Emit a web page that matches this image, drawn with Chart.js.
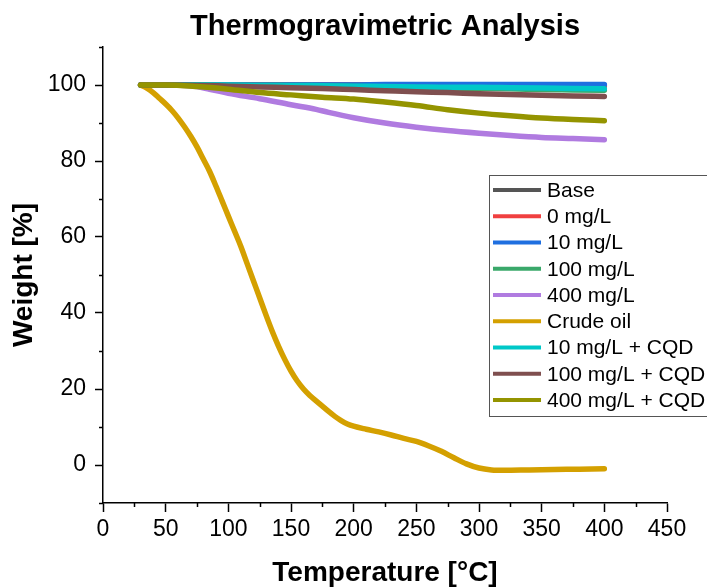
<!DOCTYPE html>
<html>
<head>
<meta charset="utf-8">
<title>Thermogravimetric Analysis</title>
<script src="https://cdn.jsdelivr.net/npm/chart.js@4.4.1/dist/chart.umd.min.js"></script>
<style>
  html, body { margin: 0; padding: 0; background: #fff; }
  #tga { display: block; }
</style>
</head>
<body>
<canvas id="tga" width="707" height="587"></canvas>
<script>
/* ===== data ===== */

// temperatures [°C] shared by the slowly changing samples
const tempCommon = [30, 50, 75, 100, 125, 150, 175, 200, 225, 250, 275, 300, 325, 350, 375, 400];

const wBase      = [100, 100, 100, 100, 100, 100, 100, 100, 100, 100, 100, 100, 99.9, 99.9, 99.9, 99.9];
const w0mg       = [100, 100, 100, 100, 100, 100, 99.9, 99.9, 99.9, 99.9, 99.8, 99.8, 99.8, 99.8, 99.7, 99.7];
const w10mg      = [100, 100, 100, 100, 100, 100, 100, 100, 100.1, 100.1, 100.1, 100.1, 100.1, 100.1, 100.1, 100.1];
const w100mg     = [100, 100, 100, 99.9, 99.9, 99.8, 99.7, 99.6, 99.5, 99.3, 99.2, 99.1, 99.0, 98.8, 98.7, 98.6];
const w10mgCqd   = [100, 100, 100, 100, 99.9, 99.9, 99.8, 99.7, 99.6, 99.5, 99.4, 99.4, 99.3, 99.2, 99.1, 99.0];
const w100mgCqd  = [100, 100, 99.9, 99.7, 99.5, 99.3, 99.1, 98.8, 98.5, 98.2, 98.0, 97.7, 97.5, 97.3, 97.1, 97.0];
const w400mgCqd  = [100, 100, 99.6, 98.9, 98.0, 97.4, 96.8, 96.3, 95.5, 94.6, 93.5, 92.6, 91.9, 91.3, 90.9, 90.6];

// 400 mg/L has a small kink near 180 °C
const temp400mg  = [30, 50, 70, 85, 100, 125, 150, 170, 180, 200, 225, 250, 275, 300, 325, 350, 375, 400];
const w400mg     = [100, 100, 99.8, 98.9, 97.8, 96.4, 94.8, 93.6, 92.8, 91.4, 90.0, 88.9, 88.0, 87.3, 86.7, 86.2, 85.9, 85.6];

// crude oil
const tempCrude  = [30, 35, 40, 45, 50, 55, 60, 65, 70, 75, 80, 85, 90, 95, 100, 105, 110, 115, 120, 125,
                    130, 135, 140, 145, 150, 155, 160, 165, 170, 175, 180, 185, 190, 195, 200, 210, 220, 230,
                    240, 250, 260, 270, 280, 290, 300, 310, 320, 340, 360, 380, 400];
const wCrude     = [100, 99.2, 98, 96.5, 95, 93.3, 91.3, 89, 86.5, 83.7, 80.5, 77.3, 73.5, 69.5, 65.5, 61.5, 57.5, 53, 48.5, 44,
                    39.5, 35.2, 31.3, 27.8, 24.7, 22.1, 20, 18.3, 16.9, 15.5, 14.1, 12.8, 11.7, 10.8, 10.2, 9.4, 8.7, 7.9,
                    7, 6.2, 5, 3.6, 1.9, 0.3, -0.8, -1.3, -1.4, -1.3, -1.2, -1.1, -1.0];

const seriesLabels = ["Base", "0 mg/L", "10 mg/L", "100 mg/L", "400 mg/L", "Crude oil",
                      "10 mg/L + CQD", "100 mg/L + CQD", "400 mg/L + CQD"];
const seriesTemps  = [tempCommon, tempCommon, tempCommon, tempCommon, temp400mg, tempCrude,
                      tempCommon, tempCommon, tempCommon];
const seriesWeights = [wBase, w0mg, w10mg, w100mg, w400mg, wCrude, w10mgCqd, w100mgCqd, w400mgCqd];
const seriesColors = ["#555555", "#f04040", "#1f6fe0", "#3aa86a", "#b07be0", "#d4a000",
                      "#00c8c8", "#7f4f4f", "#949400"];

const xTicks = [0, 50, 100, 150, 200, 250, 300, 350, 400, 450];
const yTicks = [0, 20, 40, 60, 80, 100];

/* ===== helpers ===== */

const FONT = '"Liberation Sans", Arial, Helvetica, sans-serif';

function toPoints(xs, ys) {
    return xs.map((t, i) => ({ x: t, y: ys[i] }));
}

// minor ticks, title and the boxed legend inside the plot
const decorPlugin = {
    id: "decor",
    afterDraw(chart) {
        const { ctx, chartArea } = chart;
        const xs = chart.scales.x;
        const ys = chart.scales.y;
        ctx.save();

        // minor ticks
        ctx.strokeStyle = "#000";
        ctx.lineWidth = 1.5;
        for (let v = 25; v < 450; v += 50) {
            const px = Math.round(xs.getPixelForValue(v)) + 0.5;
            ctx.beginPath();
            ctx.moveTo(px, chartArea.bottom);
            ctx.lineTo(px, chartArea.bottom + 4);
            ctx.stroke();
        }
        for (let v = -10; v <= 110; v += 20) {
            const py = Math.round(ys.getPixelForValue(v)) + 0.5;
            ctx.beginPath();
            ctx.moveTo(chartArea.left, py);
            ctx.lineTo(chartArea.left - 4, py);
            ctx.stroke();
        }

        // title, centred over the plot area
        ctx.fillStyle = "#000";
        ctx.font = "bold 29px " + FONT;
        ctx.textAlign = "center";
        ctx.textBaseline = "alphabetic";
        ctx.fillText("Thermogravimetric Analysis", (chartArea.left + chartArea.right) / 2, 35);

        // legend box
        const boxLeft = 489.5, boxTop = 175.5, boxBottom = 416.5;
        ctx.fillStyle = "#fff";
        ctx.fillRect(boxLeft, boxTop, 230, boxBottom - boxTop);
        ctx.strokeStyle = "#555";
        ctx.lineWidth = 1;
        ctx.strokeRect(boxLeft, boxTop, 230, boxBottom - boxTop);

        ctx.font = "21px " + FONT;
        ctx.textAlign = "left";
        ctx.textBaseline = "middle";
        chart.data.datasets.forEach((ds, i) => {
            const rowY = 190 + i * 26.25;
            ctx.strokeStyle = ds.borderColor;
            ctx.lineWidth = 4;
            ctx.lineCap = "butt";
            ctx.beginPath();
            ctx.moveTo(493, rowY);
            ctx.lineTo(541, rowY);
            ctx.stroke();
            ctx.fillStyle = "#000";
            ctx.fillText(ds.label, 547, rowY + 1);
        });

        ctx.restore();
    }
};

/* ===== chart ===== */

const datasets = seriesLabels.map((label, i) => ({
    label: label,
    data: toPoints(seriesTemps[i], seriesWeights[i]),
    borderColor: seriesColors[i],
    backgroundColor: seriesColors[i],
    borderWidth: 5.5,
    borderCapStyle: "round",
    borderJoinStyle: "round",
    pointRadius: 0,
    cubicInterpolationMode: "monotone",
    fill: false,
    // later series sit on top, as in the original
    order: seriesLabels.length - i,
}));

const ctx = document.getElementById("tga").getContext("2d");

new Chart(ctx, {
    type: "line",
    data: { datasets: datasets },
    options: {
        responsive: false,
        animation: false,
        devicePixelRatio: 1,
        layout: { padding: { top: 47, right: 40, bottom: 0, left: 0 } },
        plugins: {
            legend: { display: false },
            title: { display: false },
            tooltip: { enabled: false },
        },
        scales: {
            x: {
                type: "linear",
                min: 0,
                max: 450,
                afterFit(scale) { scale.height = 84; },
                afterBuildTicks(scale) { scale.ticks = xTicks.map((v) => ({ value: v })); },
                border: { display: true, color: "#000", width: 1.5 },
                grid: { drawOnChartArea: false, drawTicks: true, tickLength: 9, tickColor: "#000", tickWidth: 1.5 },
                ticks: {
                    color: "#000",
                    font: { family: FONT, size: 23 },
                    padding: 4,
                    maxRotation: 0,
                    autoSkip: false,
                },
                title: {
                    display: true,
                    text: "Temperature [°C]",
                    color: "#000",
                    font: { family: FONT, size: 28, weight: "bold", lineHeight: 1 },
                    padding: { top: 0, bottom: 0 },
                },
            },
            y: {
                type: "linear",
                min: -10,
                max: 110,
                afterFit(scale) { scale.width = 103; },
                afterBuildTicks(scale) { scale.ticks = yTicks.map((v) => ({ value: v })); },
                border: { display: true, color: "#000", width: 1.5 },
                grid: { drawOnChartArea: false, drawTicks: true, tickLength: 8, tickColor: "#000", tickWidth: 1.5 },
                ticks: {
                    color: "#000",
                    font: { family: FONT, size: 23 },
                    padding: 9,
                    autoSkip: false,
                },
                title: {
                    display: true,
                    text: "Weight [%]",
                    color: "#000",
                    font: { family: FONT, size: 28, weight: "bold", lineHeight: 1 },
                    padding: { top: 10, bottom: 0 },
                },
            },
        },
    },
    plugins: [decorPlugin],
});
</script>
</body>
</html>
